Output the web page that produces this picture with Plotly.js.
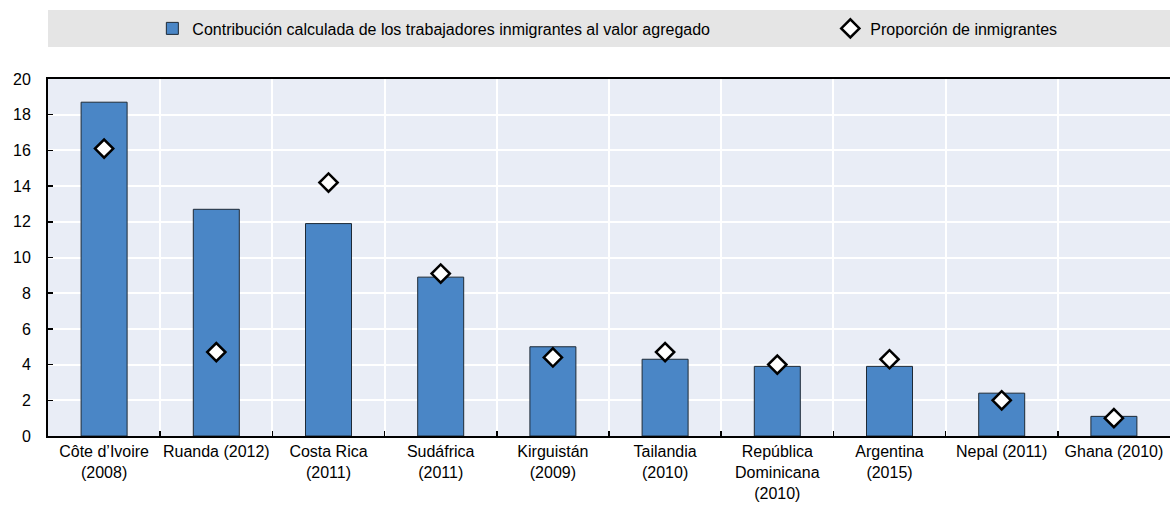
<!DOCTYPE html>
<html>
<head>
<meta charset="utf-8">
<script src="https://cdn.plot.ly/plotly-3.0.1.min.js"></script>
<style>html,body{margin:0;padding:0;background:#fff;}#chart{width:1170px;height:507px;}</style>
</head>
<body>
<div id="chart"></div>
<script>
const categories = [
  "Côte d’Ivoire<br>(2008)",
  "Ruanda (2012)",
  "Costa Rica<br>(2011)",
  "Sudáfrica<br>(2011)",
  "Kirguistán<br>(2009)",
  "Tailandia<br>(2010)",
  "República<br>Dominicana<br>(2010)",
  "Argentina<br>(2015)",
  "Nepal (2011)",
  "Ghana (2010)"
];
const contribution = [18.7, 12.7, 11.9, 8.9, 5.0, 4.3, 3.9, 3.9, 2.4, 1.1];
const immigrantShare = [16.1, 4.7, 14.2, 9.1, 4.4, 4.7, 4.0, 4.3, 2.0, 1.0];
const seriesNames = [
  "Contribución calculada de los trabajadores inmigrantes al valor agregado",
  "Proporción de inmigrantes"
];
const yTicks = [0, 2, 4, 6, 8, 10, 12, 14, 16, 18, 20];

const FONT = '"Liberation Sans", Arial, sans-serif';
const FS = 16;

const traces = [
  {
    type: 'bar',
    x: categories,
    y: contribution,
    name: seriesNames[0],
    width: 0.41,
    marker: {color: '#4a86c6', line: {color: '#1e2a36', width: 1}},
    legendwidth: 633,
    hoverinfo: 'skip'
  },
  {
    type: 'scatter',
    mode: 'markers',
    x: categories,
    y: immigrantShare,
    name: seriesNames[1],
    marker: {symbol: 'diamond', size: 14, color: '#ffffff', line: {color: '#000000', width: 2.5}},
    legendwidth: 200,
    hoverinfo: 'skip'
  }
];

const layout = {
  width: 1170,
  height: 507,
  margin: {l: 48, r: 0, t: 79, b: 71},
  paper_bgcolor: '#ffffff',
  plot_bgcolor: '#e9edf6',
  font: {family: FONT, size: FS, color: '#000000'},
  showlegend: true,
  legend: {
    orientation: 'h',
    x: 0.093, xanchor: 'left',
    y: 1.1415, yanchor: 'middle',
    bgcolor: 'rgba(0,0,0,0)',
    font: {family: FONT, size: FS, color: '#000000'},
    traceorder: 'normal'
  },
  shapes: [
    {type: 'rect', xref: 'paper', yref: 'paper', x0: 0, x1: 1, y0: 1.0896, y1: 1.193,
     fillcolor: '#e5e5e5', line: {width: 0}, layer: 'below'}
  ],
  xaxis: {
    type: 'category',
    range: [-0.5, 9.5],
    tickson: 'boundaries',
    tickangle: 0,
    showgrid: true,
    gridcolor: '#ffffff',
    gridwidth: 2,
    ticks: 'inside',
    ticklen: 5,
    tickwidth: 1.5,
    tickcolor: '#000000',
    showline: true,
    linecolor: '#000000',
    linewidth: 2,
    mirror: true,
    tickfont: {family: FONT, size: FS, color: '#000000'},
    fixedrange: true
  },
  yaxis: {
    range: [0, 20],
    tickvals: yTicks,
    showgrid: true,
    gridcolor: '#ffffff',
    gridwidth: 2,
    zeroline: false,
    ticks: 'inside',
    ticklen: 5,
    tickwidth: 1.5,
    tickcolor: '#000000',
    showline: true,
    linecolor: '#000000',
    linewidth: 2,
    ticklabelstandoff: 12,
    tickfont: {family: FONT, size: FS, color: '#000000'},
    fixedrange: true
  }
};

Plotly.newPlot('chart', traces, layout, {displayModeBar: false, staticPlot: true});
</script>
</body>
</html>
